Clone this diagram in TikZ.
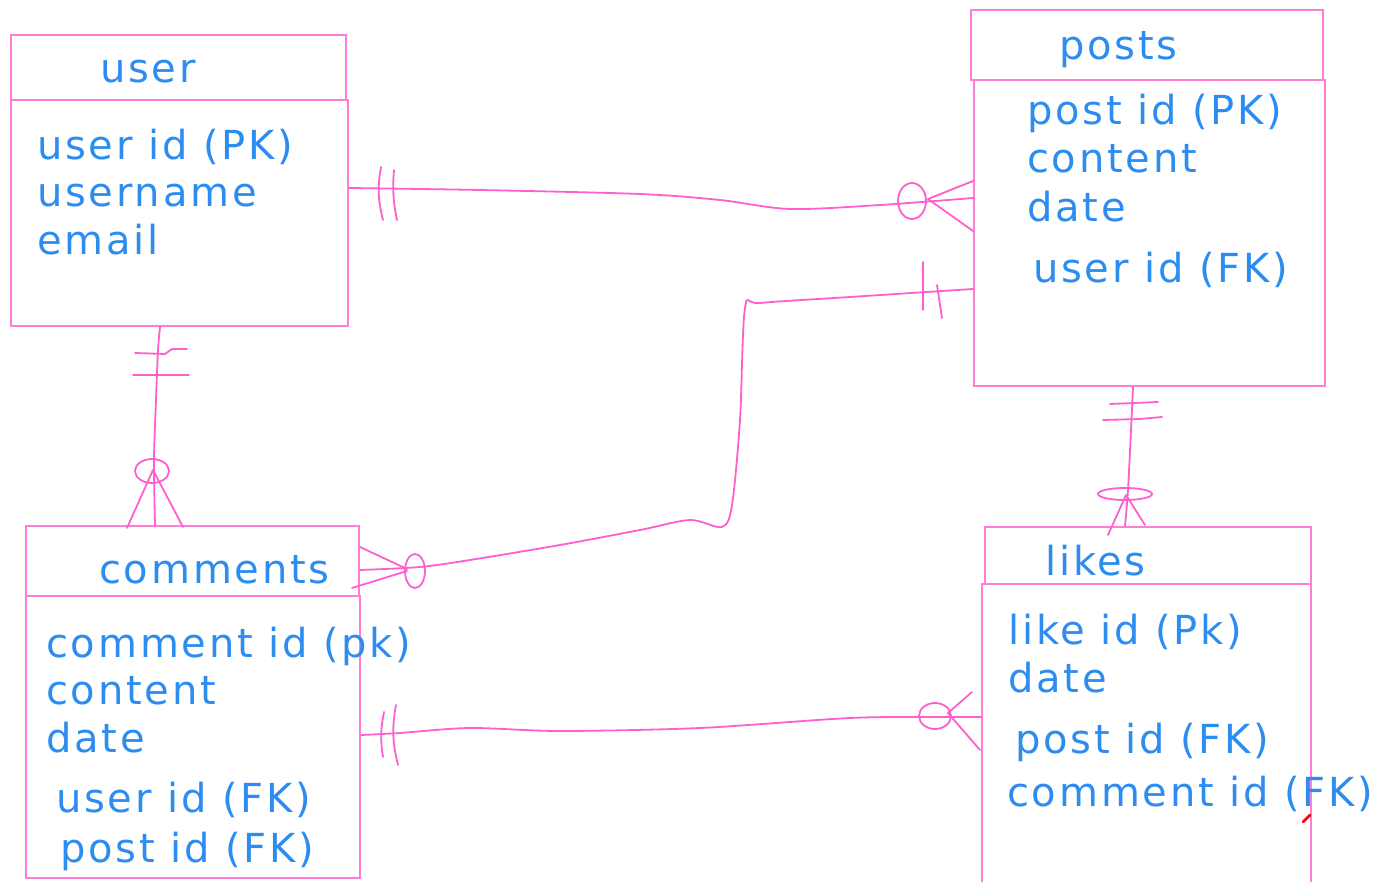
\documentclass[tikz,border=0pt]{standalone}
\usepackage{fontspec}
\setmainfont{DejaVu Sans}[LetterSpace=7]
\definecolor{boxpink}{RGB}{255,125,212}
\definecolor{linkpink}{RGB}{255,95,205}
\definecolor{erblue}{RGB}{45,140,240}
\tikzset{
  tbl/.style={rectangle, draw=boxpink, line width=2.2pt, anchor=north west, inner sep=0pt},
  fld/.style={anchor=base west, inner sep=0pt, text=erblue, font=\fontsize{40}{48}\selectfont},
  rel/.style={draw=linkpink, line width=1.8pt, line cap=round, line join=round},
}
\begin{document}
\begin{tikzpicture}[x=1pt,y=-1pt]
\useasboundingbox (0,0) rectangle (1393,882);
\node[tbl, minimum width=335pt, minimum height=65pt] (userT) at (10,34){};
\node[tbl, minimum width=337pt, minimum height=226pt] (userB) at (10,99){};
\node[fld] (userN) at (100,83){user};
\node[fld] (userA1) at (37,160){user id (PK)};
\node[fld] (userA2) at (37,207){username};
\node[fld] (userA3) at (37,255){email};
\node[tbl, minimum width=352pt, minimum height=70pt] (postsT) at (970,9){};
\node[tbl, minimum width=351pt, minimum height=306pt] (postsB) at (973,79){};
\node[fld] (postsN) at (1059,60){posts};
\node[fld] (postsA1) at (1027,125){post id (PK)};
\node[fld] (postsA2) at (1027,173){content};
\node[fld] (postsA3) at (1027,222){date};
\node[fld] (postsA4) at (1033,283){user id (FK)};
\node[tbl, minimum width=333pt, minimum height=70pt] (commT) at (25,525){};
\node[tbl, minimum width=334pt, minimum height=282pt] (commB) at (25,595){};
\node[fld] (commN) at (99,583){comments};
\node[fld] (commA1) at (46,657){comment id (pk)};
\node[fld] (commA2) at (46,704){content};
\node[fld] (commA3) at (46,752){date};
\node[fld] (commA4) at (56,812){user id (FK)};
\node[fld] (commA5) at (60,862){post id (FK)};
\node[tbl, minimum width=326pt, minimum height=57pt] (likesT) at (984,526){};
\node[tbl, minimum width=329pt, minimum height=310pt] (likesB) at (981,583){};
\node[fld] (likesN) at (1045,575){likes};
\node[fld] (likesA1) at (1008,644){like id (Pk)};
\node[fld] (likesA2) at (1008,692){date};
\node[fld] (likesA3) at (1015,753){post id (FK)};
\node[fld] (likesA4) at (1007,806){comment id (FK)};
\coordinate (up1) at (userB.east |- 0,188);
\coordinate (up2) at (postsB.west |- 0,198);
\draw[rel] plot[smooth] coordinates {(up1) (480,190) (640,194) (720,200) (790,209) (880,205) (up2)};
\draw[rel] (381,167) to[bend right=12] (383,220);
\draw[rel] (394,170) to[bend right=8] (397,220);
\draw[rel] (912,201) ellipse[x radius=14, y radius=18];
\draw[rel] (928,199) -- (postsB.west |- 0,181);
\draw[rel] (928,199) -- (postsB.west |- 0,231);
\coordinate (uc1) at (userB.south -| 160,0);
\coordinate (uc2) at (commT.north -| 155,0);
\draw[rel] plot[smooth] coordinates {(uc1) (158,350) (156,400) (154,460) (uc2)};
\draw[rel] (135,353) -- (165,354) -- (172,349) -- (187,349);
\draw[rel] (133,375) -- (189,375);
\draw[rel] (152,471) ellipse[x radius=17, y radius=12];
\draw[rel] (153,470) -- (127,528);
\draw[rel] (153,470) -- (183,527);
\coordinate (cp1) at (commT.east |- 0,570);
\coordinate (cp2) at (postsB.west |- 0,289);
\draw[rel] plot[smooth] coordinates {(cp1) (420,567) (470,560) (560,545) (640,530) (690,520) (722,527) (732,505) (740,420) (745,308) (760,303) (850,297) (cp2)};
\draw[rel] (415,571) ellipse[x radius=10, y radius=17];
\draw[rel] (407,569) -- (360,547);
\draw[rel] (407,571) -- (352,588);
\draw[rel] (923,262) -- (923,310);
\draw[rel] (937,285) -- (942,318);
\coordinate (pl1) at (postsB.south -| 1133,0);
\coordinate (pl2) at (likesT.north -| 1125,0);
\draw[rel] plot[smooth] coordinates {(pl1) (1131,430) (1128,490) (pl2)};
\draw[rel] (1110,404) -- (1158,402);
\draw[rel] (1103,420) -- (1140,419) -- (1162,417);
\draw[rel] (1125,494) ellipse[x radius=27, y radius=6];
\draw[rel] (1126,495) -- (1108,535);
\draw[rel] (1126,495) -- (1145,525);
\coordinate (cl1) at (commB.east |- 0,735);
\coordinate (cl2) at (likesB.west |- 0,717);
\draw[rel] plot[smooth] coordinates {(cl1) (400,733) (470,728) (560,731) (700,728) (850,718) (940,717) (cl2)};
\draw[rel] (384,712) to[bend right=10] (383,757);
\draw[rel] (396,705) to[bend right=12] (398,765);
\draw[rel] (935,716) ellipse[x radius=16, y radius=13];
\draw[rel] (948,713) -- (972,692);
\draw[rel] (948,713) -- (980,750);
\draw[red, line width=2.5pt, line cap=round] (1303,822) -- (1310,815);
\end{tikzpicture}
\end{document}
